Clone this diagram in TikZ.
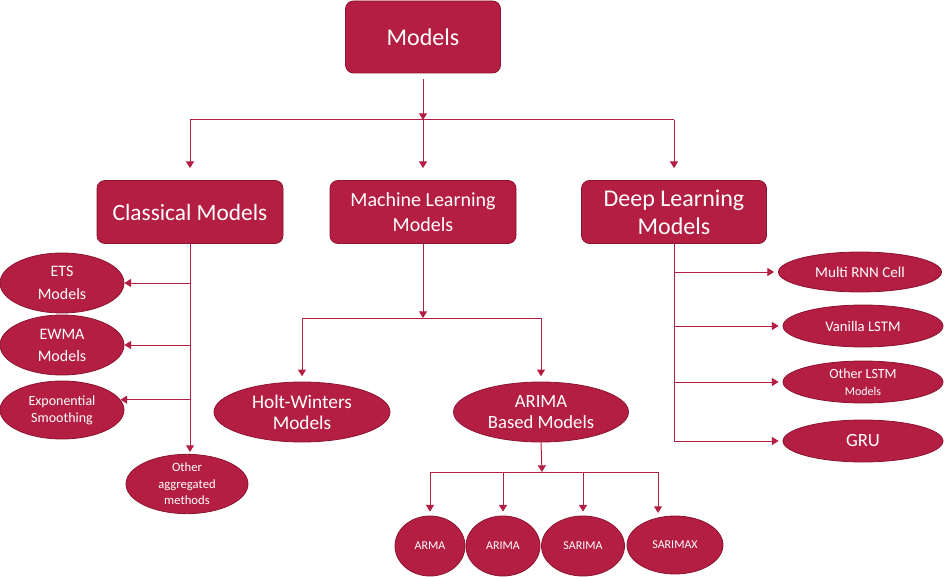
\documentclass[tikz,border=0pt]{standalone}
\usepackage{fontspec}
\setmainfont{Carlito}
\usepackage{tikz}
\usepackage{xcolor}
\usetikzlibrary{shapes.geometric,arrows.meta}
\definecolor{crimson}{RGB}{180,30,66}
\definecolor{crimsonedge}{RGB}{140,20,48}

\begin{document}
\begin{tikzpicture}[x=0.75pt,y=0.75pt,yscale=-1,xscale=1,
    rbox/.style={draw=crimsonedge,fill=crimson,rounded corners=6pt,text=white,align=center,inner sep=0pt,line width=0.6pt},
    oval/.style={draw=crimsonedge,fill=crimson,ellipse,text=white,align=center,inner sep=0pt,line width=0.6pt},
    link/.style={draw=crimson,line width=0.75pt},
    arr/.style={link,-{Triangle[width=6pt,length=5pt]}}]
    %set diagram left start at 0, and has height of 577
    \useasboundingbox (0,0) rectangle (945,577);

    % Rounded Rect
    \node [rbox,minimum width=116.25pt,minimum height=54pt,font=\fontsize{18}{21}\selectfont] (models) at (423,37) {Models};
    % Rounded Rect
    \node [rbox,minimum width=139.5pt,minimum height=47.25pt,font=\fontsize{17.5}{21}\selectfont] (cls) at (190,212) {Classical Models};
    % Rounded Rect
    \node [rbox,minimum width=139.5pt,minimum height=47.25pt,font=\fontsize{15}{18.75}\selectfont] (ml) at (423,212) {Machine Learning\\Models};
    % Rounded Rect
    \node [rbox,minimum width=138.75pt,minimum height=47.25pt,font=\fontsize{18}{21}\selectfont] (dl) at (674,212) {Deep Learning\\Models};

    % Ellipse
    \node [oval,minimum width=93pt,minimum height=45pt,font=\fontsize{12}{17}\selectfont] (ets) at (62,283) {ETS\\Models};
    % Ellipse
    \node [oval,minimum width=93pt,minimum height=45pt,font=\fontsize{12}{16.5}\selectfont] (ewma) at (62,345) {EWMA\\Models};
    % Ellipse
    \node [oval,minimum width=93pt,minimum height=43.5pt,font=\fontsize{10.5}{12.75}\selectfont] (expsm) at (62,410) {Exponential\\Smoothing};
    % Ellipse
    \node [oval,minimum width=91.5pt,minimum height=43.5pt,font=\fontsize{9.5}{12.4}\selectfont] (other) at (187,484) {Other\\aggregated\\methods};

    % Ellipse
    \node [oval,minimum width=132pt,minimum height=45pt,font=\fontsize{14.5}{15.75}\selectfont] (holt) at (302,412) {Holt-Winters\\Models};
    % Ellipse
    \node [oval,minimum width=131.25pt,minimum height=45pt,font=\fontsize{14}{15.75}\selectfont] (abm) at (541,412) {ARIMA\\Based Models};

    % Ellipse
    \node [oval,minimum width=52.5pt,minimum height=45pt,font=\fontsize{9}{11}\selectfont] (arma) at (430,546) {ARMA};
    % Ellipse
    \node [oval,minimum width=55.5pt,minimum height=45pt,font=\fontsize{9}{11}\selectfont] (arima) at (503,546) {ARIMA};
    % Ellipse
    \node [oval,minimum width=62.25pt,minimum height=45pt,font=\fontsize{9}{11}\selectfont] (sarima) at (583,546) {SARIMA};
    % Ellipse
    \node [oval,minimum width=72pt,minimum height=43.5pt,font=\fontsize{9}{11}\selectfont] (sarimax) at (675,545) {SARIMAX};

    % Ellipse
    \node [oval,minimum width=122.25pt,minimum height=30pt,font=\fontsize{11.3}{13}\selectfont] (rnn) at (860,272) {Multi RNN Cell};
    % Ellipse
    \node [oval,minimum width=120pt,minimum height=31.5pt,font=\fontsize{11}{13}\selectfont] (vanilla) at (863,326) {Vanilla LSTM};
    % Ellipse
    \node [oval,minimum width=120pt,minimum height=31.5pt,font=\fontsize{10.5}{12.75}\selectfont] (olstm) at (863,382) {Other LSTM\\{\fontsize{9}{11}\selectfont Models}};
    % Ellipse
    \node [oval,minimum width=120pt,minimum height=31.5pt,font=\fontsize{14}{16}\selectfont] (gru) at (863,441) {GRU};

    % Bus points
    \coordinate (topbus) at (423,120);
    \coordinate (mlbus) at (423,318);
    \coordinate (arbus) at (542,472);
    \coordinate (sxdrop) at (658,472);

    %Straight Lines
    \draw [arr,shorten <=4.5pt] (models) -- (topbus);
    \draw [link] (cls.north |- topbus) -- (dl.north |- topbus);
    \draw [arr,shorten >=9pt] (cls.north |- topbus) -- (cls.north);
    \draw [arr,shorten >=9pt] (topbus) -- (ml.north);
    \draw [arr,shorten >=9pt] (dl.north |- topbus) -- (dl.north);

    %Straight Lines
    \draw [arr,shorten >=1.5pt] (cls.south) -- (cls.south |- other.north);
    \draw [arr] (cls.south |- ets.east) -- (ets.east);
    \draw [arr] (cls.south |- ewma.east) -- (ewma.east);
    \draw [arr] (cls.south |- expsm.10) -- (expsm.10);

    %Straight Lines
    \draw [arr] (ml.south) -- (mlbus);
    \draw [link] (holt.north |- mlbus) -- (abm.north |- mlbus);
    \draw [arr,shorten >=4pt] (holt.north |- mlbus) -- (holt.north);
    \draw [arr,shorten >=4pt] (abm.north |- mlbus) -- (abm.north);

    %Straight Lines
    \draw [arr] (abm.south) -- (arbus);
    \draw [link] (arma.north |- arbus) -- (sxdrop);
    \draw [arr,shorten >=3pt] (arma.north |- arbus) -- (arma.north);
    \draw [arr,shorten >=3pt] (arima.north |- arbus) -- (arima.north);
    \draw [arr,shorten >=3pt] (sarima.north |- arbus) -- (sarima.north);
    \draw [arr,shorten >=2pt] (sxdrop) -- (sxdrop |- sarimax.north);

    %Straight Lines
    \draw [arr,shorten >=3pt] (dl.south) |- (gru.west);
    \draw [arr,shorten >=3pt] (dl.south |- rnn.west) -- (rnn.west);
    \draw [arr,shorten >=3pt] (dl.south |- vanilla.west) -- (vanilla.west);
    \draw [arr,shorten >=3pt] (dl.south |- olstm.west) -- (olstm.west);

\end{tikzpicture}
\end{document}
